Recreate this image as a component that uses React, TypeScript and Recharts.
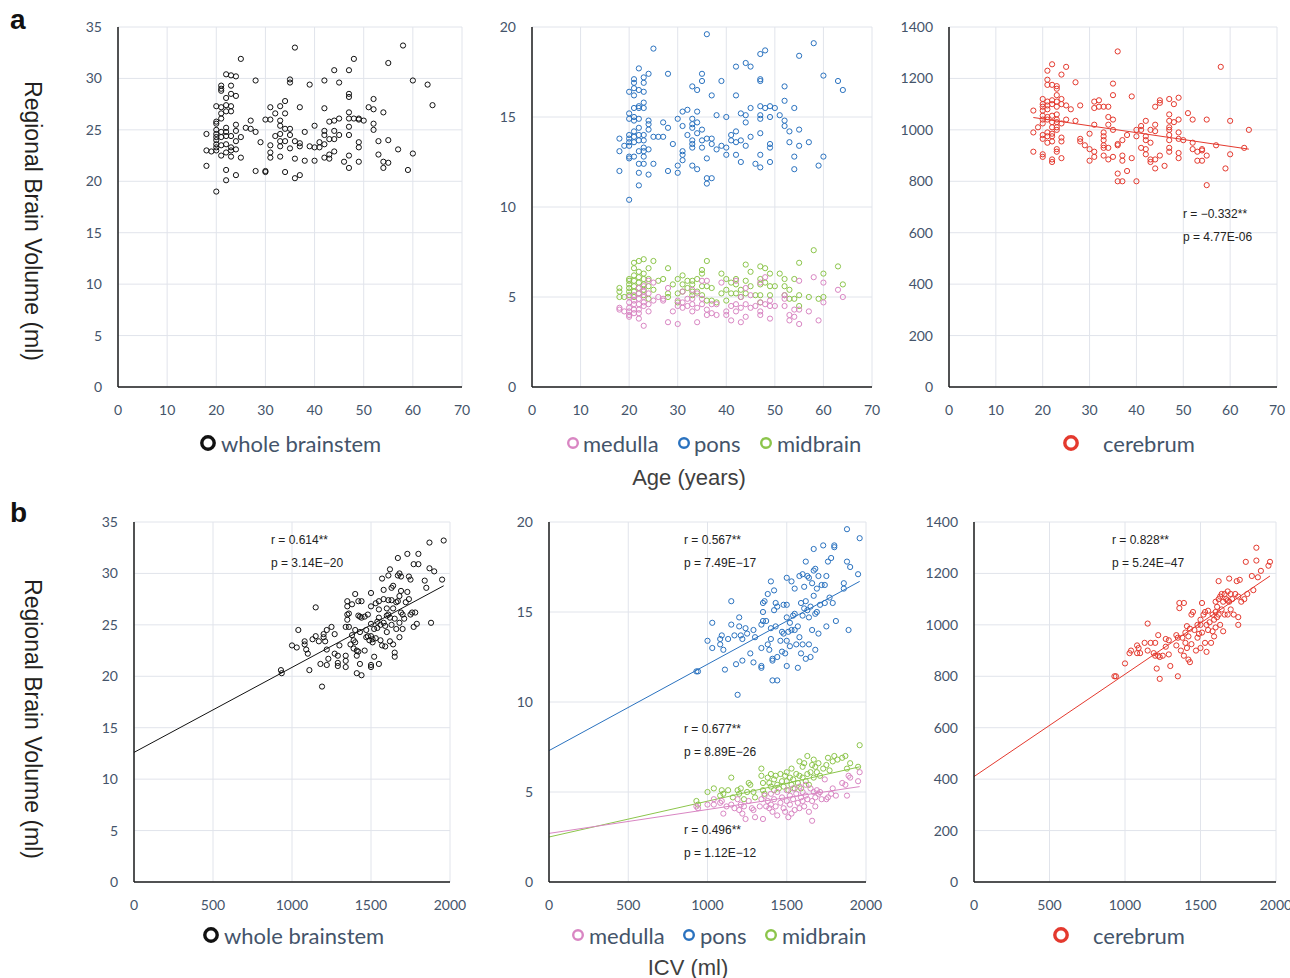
import React from 'react';
import { ScatterChart, Scatter, XAxis, YAxis, CartesianGrid, ReferenceLine } from 'recharts';

type Pt = [number, number];

const ageTicks = [0, 10, 20, 30, 40, 50, 60, 70];
const icvTicks = [0, 500, 1000, 1500, 2000];
const brainstemTicks = [0, 5, 10, 15, 20, 25, 30, 35];
const subregionTicks = [0, 5, 10, 15, 20];
const cerebrumTicks = [0, 200, 400, 600, 800, 1000, 1200, 1400];

// age (years) vs volume (ml)
const brainstemByAge: Pt[] = [
  [18, 24.6], [18, 23], [18, 21.5], [19, 22.9], [20, 27.3], [20, 25.8], [20, 25.6], [20, 25], [20, 24.6], [20, 24.3],
  [20, 24], [20, 23.6], [20, 23.3], [20, 23], [20, 19], [21, 29.3], [21, 29], [21, 28.8], [21, 27.2], [21, 26.6],
  [21, 26.1], [21, 24.8], [21, 24.3], [21, 23.5], [21, 22.5], [22, 30.4], [22, 28.1], [22, 27.4], [22, 26.8], [22, 25.2],
  [22, 24.8], [22, 24.4], [22, 23.6], [22, 22.8], [22, 21.1], [22, 20.1], [23, 30.3], [23, 29.3], [23, 28.5], [23, 27.3],
  [23, 26.8], [23, 24.4], [23, 23.3], [23, 23], [23, 22.4], [24, 30.2], [24, 28.3], [24, 25.5], [24, 24.9], [24, 23.9],
  [24, 23.1], [24, 20.6], [25, 31.9], [25, 24.3], [25, 22.3], [26, 25.2], [27, 25.9], [27, 25.1], [28, 29.8], [28, 24.8],
  [28, 21], [29, 23.8], [30, 26], [30, 21], [30, 20.9], [31, 27.2], [31, 26], [31, 23.5], [31, 22.8], [31, 22.3],
  [32, 26.6], [32, 24.4], [33, 27.3], [33, 25.9], [33, 25.4], [33, 24.6], [33, 23.9], [33, 23.4], [33, 22.4], [34, 27.8],
  [34, 26.6], [34, 25.1], [34, 23.9], [34, 20.9], [35, 29.9], [35, 29.6], [35, 25.1], [35, 24.5], [35, 23.2], [36, 33],
  [36, 23.9], [36, 22.2], [36, 20.3], [37, 27.2], [37, 23.7], [37, 23.4], [37, 20.6], [38, 24.8], [38, 22], [39, 29.4],
  [39, 23.4], [40, 25.4], [40, 23.3], [40, 22], [41, 23.8], [41, 23.3], [42, 29.8], [42, 27.1], [42, 24.9], [42, 24.5],
  [42, 23.6], [42, 22.3], [43, 25.8], [43, 24.1], [43, 22.6], [43, 22.2], [44, 30.8], [44, 25.9], [44, 24.9], [44, 24.1],
  [44, 22.9], [45, 29.6], [45, 26.1], [45, 24.5], [46, 21.9], [47, 30.8], [47, 28.5], [47, 28.2], [47, 26.7], [47, 26.1],
  [47, 25.3], [47, 24.5], [47, 22.5], [47, 21.3], [48, 31.9], [48, 26.1], [49, 26.1], [49, 26], [49, 23.8], [49, 23.3],
  [49, 21.9], [50, 25.9], [51, 27.2], [52, 28], [52, 27], [52, 25.6], [52, 25], [53, 23.9], [53, 22.6], [54, 26.7],
  [54, 21.9], [54, 21.3], [55, 31.5], [55, 24], [55, 21.8], [57, 23.1], [58, 33.2], [59, 21.1], [60, 29.8], [60, 22.7],
  [63, 29.4], [64, 27.4],
];

const ponsByAge: Pt[] = [
  [18, 13.8], [18, 13.1], [18, 12], [19, 13.4], [20, 16.4], [20, 15.2], [20, 14.9], [20, 14], [20, 13.8], [20, 13.6],
  [20, 13.4], [20, 12.8], [20, 12.7], [20, 10.4], [21, 17.1], [21, 16.9], [21, 16.6], [21, 16.2], [21, 15.5], [21, 15],
  [21, 14.8], [21, 14.2], [21, 13.9], [21, 13.6], [21, 12.8], [22, 17.7], [22, 16.5], [22, 15.6], [22, 15.5], [22, 14.9],
  [22, 14.4], [22, 14], [22, 13.7], [22, 13.1], [22, 12.4], [22, 11.9], [22, 11.2], [23, 17.2], [23, 16.9], [23, 16.4],
  [23, 15.8], [23, 15.5], [23, 14], [23, 13.7], [23, 13.3], [23, 13.1], [23, 12.8], [23, 12.4], [24, 17.4], [24, 14.8],
  [24, 14.6], [24, 14.3], [24, 13.2], [24, 11.8], [25, 18.8], [25, 13.9], [25, 12.4], [26, 13.9], [27, 14.7], [27, 13.9],
  [28, 17.4], [28, 14.4], [28, 12], [29, 13.5], [30, 14.9], [30, 12.3], [30, 11.9], [31, 15.3], [31, 14.5], [31, 13.1],
  [31, 12.9], [31, 12.6], [32, 15.4], [32, 14], [33, 16.7], [33, 14.9], [33, 14.6], [33, 14.4], [33, 13.7], [33, 13.5],
  [33, 13.3], [33, 12.3], [34, 16.5], [34, 15.3], [34, 14.7], [34, 14.1], [34, 12.1], [35, 17.4], [35, 17], [35, 14.3],
  [35, 13.7], [35, 13.3], [36, 19.6], [36, 13.8], [36, 12.7], [36, 11.6], [36, 11.3], [37, 16.2], [37, 13.8], [37, 13.5],
  [37, 11.6], [38, 15.1], [38, 13.2], [39, 17], [39, 13.4], [40, 15], [40, 13.3], [40, 12.9], [41, 14], [41, 13.7],
  [42, 17.8], [42, 16.2], [42, 14.2], [42, 13.6], [42, 12.9], [43, 15.2], [43, 13.7], [43, 12.5], [44, 18], [44, 15.1],
  [44, 14.7], [44, 13.4], [45, 17.8], [45, 15.5], [45, 13.9], [46, 12.4], [47, 18.5], [47, 17.1], [47, 17], [47, 15.6],
  [47, 15.1], [47, 14.9], [47, 14.1], [47, 12.9], [47, 12.2], [48, 18.7], [48, 15.5], [49, 15.6], [49, 15], [49, 13.5],
  [49, 13.3], [49, 12.5], [50, 15.5], [51, 15.1], [52, 16.7], [52, 15.9], [52, 14.8], [52, 14.5], [53, 14.2], [53, 13.6],
  [54, 15.5], [54, 12.8], [54, 12.1], [55, 18.4], [55, 14.3], [55, 13.4], [57, 13.6], [58, 19.1], [59, 12.3], [60, 17.3],
  [60, 12.8], [63, 17], [64, 16.5],
];

const medullaByAge: Pt[] = [
  [18, 4.4], [18, 4.3], [19, 4.2], [20, 5], [20, 4.7], [20, 4.4], [20, 4.2], [20, 4], [20, 3.9], [21, 5.1],
  [21, 4.8], [21, 4.6], [21, 4.3], [21, 4.1], [22, 5.5], [22, 5.2], [22, 4.9], [22, 4.6], [22, 4.3], [22, 4.1],
  [22, 3.8], [23, 5.6], [23, 5.3], [23, 5], [23, 4.7], [23, 4.5], [23, 3.4], [24, 5.9], [24, 5.2], [24, 4.6],
  [24, 4.2], [25, 5.8], [25, 4.8], [26, 5], [27, 4.9], [27, 4.8], [28, 5.5], [28, 3.6], [29, 4.2], [30, 4.8],
  [30, 4.5], [30, 3.5], [31, 5.3], [31, 4.7], [31, 4.4], [32, 4.9], [32, 4.5], [33, 5.4], [33, 4.9], [33, 4.6],
  [33, 4.2], [34, 5.2], [34, 4.4], [34, 3.6], [35, 5.9], [35, 4.9], [35, 4.6], [36, 5.9], [36, 4.3], [36, 4],
  [37, 4.6], [37, 4.1], [38, 4.6], [38, 4], [39, 5.8], [40, 4.2], [40, 4], [41, 4.5], [41, 3.7], [42, 5.9],
  [42, 4.6], [42, 4.2], [43, 5], [43, 4.4], [43, 3.6], [44, 5.5], [44, 4.6], [44, 3.9], [45, 5.1], [45, 4.4],
  [46, 4.5], [47, 5.8], [47, 4.7], [47, 4.2], [47, 4], [48, 6.1], [48, 4.6], [49, 4.8], [49, 4.5], [49, 3.8],
  [50, 4.5], [52, 5.1], [52, 4.9], [52, 4.5], [53, 4], [53, 3.7], [54, 4.3], [54, 3.9], [55, 5.9], [55, 4.3],
  [55, 3.5], [57, 4.2], [58, 6.1], [59, 3.7], [60, 5.8], [60, 4.7], [63, 5.4], [64, 5],
];

const midbrainByAge: Pt[] = [
  [18, 5.5], [18, 5.3], [18, 5], [19, 5], [20, 6], [20, 5.9], [20, 5.7], [20, 5.5], [20, 5.3], [20, 5.1],
  [21, 6.9], [21, 6.6], [21, 6.2], [21, 5.9], [21, 5.6], [21, 5.3], [21, 5], [22, 7], [22, 6.4], [22, 6.1],
  [22, 5.8], [22, 5.5], [22, 5.2], [23, 7.1], [23, 6.3], [23, 6], [23, 5.7], [23, 5.4], [23, 5.1], [24, 6.6],
  [24, 6], [24, 5.6], [24, 4.9], [25, 7], [25, 5.4], [26, 5.9], [27, 6], [28, 6.6], [28, 5.2], [28, 5],
  [29, 5.7], [30, 6], [30, 5.2], [30, 4.7], [31, 6.2], [31, 5.7], [31, 5.3], [32, 5.9], [32, 5.5], [33, 5.9],
  [33, 5.7], [33, 5.3], [33, 5.1], [34, 6], [34, 5.3], [35, 6.5], [35, 6.3], [35, 5.6], [35, 5.1], [36, 7],
  [36, 5.6], [36, 4.8], [37, 5.5], [37, 4.8], [38, 4.7], [39, 6.3], [39, 5.2], [40, 6], [40, 5.4], [40, 4.8],
  [41, 5.8], [41, 5.2], [42, 6], [42, 5.7], [42, 5.2], [43, 5.4], [43, 5], [44, 6.8], [44, 5.9], [44, 5.2],
  [45, 6.4], [45, 5.6], [46, 5.1], [47, 6.7], [47, 6], [47, 5.7], [47, 5.1], [47, 4.7], [48, 6.6], [48, 5.8],
  [49, 6.3], [49, 5.6], [49, 5.1], [50, 5.6], [51, 6.3], [52, 6], [52, 5.6], [52, 5.1], [53, 5.4], [53, 4.9],
  [54, 6], [54, 4.9], [55, 6.9], [55, 5.1], [55, 4.5], [57, 5], [58, 7.6], [59, 4.9], [60, 6.3], [60, 5],
  [63, 6.7], [64, 5.7],
];

const cerebrumByAge: Pt[] = [
  [18, 1075], [18, 990], [18, 915], [19, 1010], [20, 1120], [20, 1100], [20, 1090], [20, 1075], [20, 1055], [20, 1040],
  [20, 1025], [20, 980], [20, 965], [20, 905], [20, 895], [21, 1230], [21, 1195], [21, 1175], [21, 1110], [21, 1095],
  [21, 1080], [21, 1050], [21, 1040], [21, 990], [21, 975], [21, 950], [22, 1255], [22, 1175], [22, 1115], [22, 1100],
  [22, 1055], [22, 1030], [22, 1010], [22, 985], [22, 975], [22, 955], [22, 885], [22, 875], [23, 1170], [23, 1160],
  [23, 1135], [23, 1110], [23, 1090], [23, 1060], [23, 1040], [23, 1030], [23, 1010], [23, 1000], [23, 925], [23, 915],
  [24, 1215], [24, 1120], [24, 1100], [24, 1025], [24, 970], [24, 955], [24, 890], [25, 1245], [25, 1095], [25, 1040],
  [26, 1080], [27, 1185], [27, 1035], [28, 1095], [28, 965], [28, 955], [29, 940], [30, 985], [30, 925], [30, 880],
  [31, 1110], [31, 1085], [31, 1020], [31, 915], [31, 895], [32, 1115], [32, 1090], [33, 1090], [33, 990], [33, 975],
  [33, 960], [33, 940], [33, 930], [33, 900], [34, 1090], [34, 1050], [34, 1020], [34, 930], [34, 885], [35, 1180],
  [35, 1135], [35, 1040], [35, 1000], [35, 895], [36, 1305], [36, 945], [36, 940], [36, 830], [36, 800], [37, 960],
  [37, 900], [37, 880], [37, 800], [38, 980], [38, 840], [39, 1130], [39, 890], [40, 1000], [40, 975], [40, 800],
  [41, 1015], [41, 1000], [41, 930], [42, 1035], [42, 975], [42, 960], [42, 925], [42, 905], [43, 1000], [43, 950],
  [43, 885], [43, 875], [44, 1090], [44, 1020], [44, 995], [44, 885], [44, 850], [45, 1115], [45, 1105], [45, 900],
  [46, 860], [47, 1120], [47, 1060], [47, 1035], [47, 1010], [47, 1000], [47, 980], [47, 960], [47, 930], [47, 915],
  [48, 1100], [48, 1030], [49, 1125], [49, 1040], [49, 990], [49, 965], [49, 910], [49, 890], [50, 960], [51, 1065],
  [52, 1040], [52, 950], [52, 925], [53, 915], [53, 880], [54, 925], [54, 920], [54, 880], [55, 1040], [55, 900],
  [55, 785], [57, 940], [58, 1245], [59, 850], [60, 1035], [60, 905], [63, 930], [64, 1000],
];

// ICV (ml) vs volume (ml)
const brainstemByIcv: Pt[] = [
  [930, 20.6], [935, 20.3], [1000, 23], [1030, 22.8], [1040, 24.5], [1080, 23.4], [1080, 23.1], [1090, 22.6], [1100, 22.2], [1110, 20.6],
  [1130, 23.6], [1150, 26.7], [1150, 23.9], [1170, 23.4], [1180, 21.2], [1190, 19], [1200, 24.1], [1200, 23.8], [1210, 23.4], [1220, 24.5],
  [1220, 22.6], [1220, 21.1], [1230, 21.7], [1250, 24.8], [1270, 24.1], [1270, 22.2], [1290, 22], [1290, 21.3], [1290, 21], [1300, 23],
  [1340, 24.8], [1340, 22], [1340, 21.5], [1340, 20.9], [1350, 27.3], [1350, 26.8], [1350, 26], [1350, 25.5], [1360, 26.1], [1360, 24.8],
  [1370, 23.1], [1380, 27], [1380, 24], [1390, 23.5], [1390, 22.7], [1400, 28], [1400, 24.5], [1400, 23.3], [1410, 22.5], [1410, 22],
  [1410, 20.3], [1420, 27.3], [1420, 25.9], [1420, 22.4], [1430, 25.8], [1430, 24.3], [1430, 21.2], [1440, 27.3], [1440, 25.7], [1440, 20.1],
  [1460, 25.8], [1460, 22.5], [1470, 24.5], [1470, 23.8], [1480, 26], [1480, 23.9], [1490, 23.5], [1500, 28.1], [1500, 26.8], [1500, 25.1],
  [1500, 23.9], [1500, 21.1], [1500, 20.9], [1510, 23.6], [1510, 23.3], [1520, 24.6], [1520, 21.9], [1530, 27.1], [1530, 23.7], [1540, 25.3],
  [1540, 24.7], [1550, 27.3], [1550, 26.5], [1550, 25.7], [1550, 21.2], [1560, 25], [1560, 23.5], [1570, 29.5], [1570, 23], [1580, 28.4],
  [1580, 27.5], [1580, 25.2], [1590, 24.9], [1590, 22.9], [1600, 26.6], [1600, 25.9], [1600, 24.3], [1610, 29.8], [1610, 27.4], [1610, 26],
  [1620, 30.4], [1620, 25.7], [1620, 23.4], [1630, 28.6], [1630, 27.4], [1630, 25], [1640, 28.8], [1640, 26.6], [1640, 23.1], [1650, 25.6],
  [1650, 22.3], [1650, 21.9], [1660, 27.2], [1660, 24.6], [1670, 31.5], [1670, 29.8], [1670, 27.3], [1680, 30], [1680, 27.8], [1680, 25.2],
  [1680, 23.8], [1690, 29.7], [1690, 28.3], [1690, 26.2], [1700, 26], [1700, 24.6], [1710, 25.6], [1720, 27.2], [1730, 31.9], [1730, 28.2],
  [1740, 29.7], [1740, 27.5], [1750, 29.4], [1750, 26], [1760, 26.2], [1770, 30.9], [1770, 24.8], [1780, 26.2], [1790, 25.1], [1800, 31.9],
  [1800, 30.9], [1840, 29.3], [1850, 28.6], [1870, 33], [1870, 30.5], [1880, 25.2], [1900, 30.2], [1950, 29.4], [1960, 33.2],
];

const ponsByIcv: Pt[] = [
  [930, 11.7], [940, 11.7], [1000, 13.4], [1030, 14.4], [1030, 13], [1080, 13.5], [1080, 13.2], [1090, 13.7], [1100, 12.9], [1110, 11.8],
  [1130, 13.5], [1150, 15.6], [1150, 14.3], [1170, 13.7], [1180, 12.1], [1190, 10.4], [1200, 14.7], [1200, 14.2], [1210, 13.7], [1220, 13.5],
  [1220, 12.3], [1240, 14.1], [1250, 13.8], [1270, 12.7], [1290, 12.2], [1290, 14], [1300, 13.6], [1340, 14.3], [1340, 13], [1340, 12],
  [1340, 11.9], [1350, 15.5], [1350, 15], [1350, 14.5], [1360, 15.6], [1370, 14.5], [1380, 16], [1380, 13.2], [1390, 12.9], [1400, 16.7],
  [1400, 14.1], [1400, 13.5], [1410, 12.4], [1410, 12.3], [1410, 11.2], [1420, 16.2], [1420, 15.1], [1430, 15.5], [1430, 14.2], [1440, 15.3],
  [1440, 12.5], [1440, 11.2], [1460, 13.4], [1470, 13.9], [1470, 12.8], [1480, 15.4], [1480, 13.8], [1490, 12.7], [1500, 16.9], [1500, 15.4],
  [1500, 14.7], [1500, 13.4], [1500, 12], [1510, 13.9], [1520, 14.4], [1520, 13.1], [1530, 16.7], [1530, 14], [1540, 14.8], [1550, 16.3],
  [1550, 14.9], [1550, 14], [1560, 13.2], [1570, 14.2], [1570, 11.9], [1580, 17], [1580, 13.6], [1590, 15.5], [1590, 12.7], [1600, 17.1],
  [1600, 14.8], [1600, 13.2], [1610, 16.4], [1610, 15.2], [1620, 17.8], [1620, 15.6], [1620, 12.4], [1630, 17], [1630, 15.1], [1640, 16.9],
  [1640, 14.7], [1640, 13.2], [1650, 15.3], [1650, 12.5], [1660, 16.6], [1660, 14], [1670, 18.5], [1670, 17.3], [1670, 15.9], [1680, 17.4],
  [1680, 14.9], [1680, 12.9], [1690, 16.3], [1690, 15], [1700, 17], [1700, 13.8], [1710, 15.4], [1720, 16.5], [1730, 18.7], [1740, 16.5],
  [1740, 15.5], [1750, 17], [1750, 14.2], [1760, 17.8], [1770, 15.8], [1780, 18], [1790, 15.5], [1800, 18.7], [1800, 18.6], [1810, 14.5],
  [1860, 16.6], [1860, 16.3], [1880, 17.8], [1880, 19.6], [1890, 14], [1900, 17.5], [1950, 17.1], [1960, 19.1],
];

const medullaByIcv: Pt[] = [
  [930, 4.2], [940, 4.1], [1000, 4.3], [1040, 4.6], [1040, 4.3], [1080, 4.4], [1090, 4.5], [1100, 3.8], [1120, 4.2], [1150, 4.3],
  [1170, 4.1], [1190, 4.6], [1200, 4], [1210, 4.3], [1220, 3.8], [1230, 4.2], [1240, 3.5], [1260, 4.5], [1280, 4.1], [1290, 4],
  [1300, 3.6], [1330, 4.2], [1340, 4.6], [1350, 3.5], [1360, 4.8], [1370, 4.2], [1380, 4.5], [1390, 4.1], [1400, 4.9], [1400, 4.3],
  [1410, 3.9], [1420, 4.6], [1430, 4.2], [1440, 5], [1440, 3.7], [1460, 4.4], [1470, 4.7], [1480, 4.1], [1490, 3.9], [1500, 5.1],
  [1500, 4.5], [1510, 3.6], [1520, 4.8], [1520, 4.3], [1530, 3.8], [1540, 5.2], [1540, 4.6], [1550, 4], [1560, 4.9], [1570, 4.4],
  [1580, 5.3], [1580, 4.1], [1590, 4.7], [1600, 5], [1600, 4.5], [1610, 4.2], [1620, 5.4], [1620, 4.8], [1630, 4.6], [1640, 3.9],
  [1650, 5.2], [1660, 4.5], [1660, 3.4], [1670, 5], [1680, 4.7], [1680, 4.2], [1690, 5.1], [1700, 4.9], [1710, 5], [1720, 4.6],
  [1740, 5.7], [1750, 4.6], [1760, 4.7], [1780, 4.9], [1790, 5.2], [1810, 4.8], [1850, 5.5], [1870, 5.4], [1880, 4.8], [1890, 5.9],
  [1900, 5.8], [1950, 5.6], [1960, 6.1],
];

const midbrainByIcv: Pt[] = [
  [930, 4.5], [940, 4.3], [1000, 5], [1040, 5.2], [1080, 4.8], [1090, 5.1], [1100, 4.9], [1130, 5.1], [1150, 5.8], [1160, 4.7],
  [1190, 5.1], [1200, 4.9], [1210, 5.2], [1230, 4.6], [1250, 5], [1260, 5.5], [1270, 5.4], [1290, 5], [1300, 4.7], [1340, 6.3],
  [1340, 5.9], [1350, 5.5], [1350, 5.1], [1360, 4.9], [1380, 5.8], [1390, 5.5], [1400, 6], [1400, 5.3], [1420, 5.7], [1420, 5.1],
  [1430, 5.9], [1440, 5.4], [1450, 5.2], [1460, 6], [1470, 5.6], [1480, 5.3], [1490, 5.9], [1500, 6.1], [1500, 5.6], [1510, 5.1],
  [1520, 5.8], [1530, 6.3], [1530, 5.4], [1540, 5.7], [1550, 5.2], [1560, 6], [1570, 5.5], [1580, 6.7], [1580, 5.9], [1590, 5.2],
  [1600, 6.4], [1600, 5.8], [1610, 6.6], [1620, 5.6], [1630, 7], [1630, 6], [1640, 5.4], [1650, 6.1], [1660, 6.5], [1670, 6.8],
  [1670, 5.8], [1680, 6.4], [1690, 6.1], [1700, 6.6], [1710, 5.9], [1730, 6.3], [1750, 6.5], [1760, 6.9], [1770, 6.2], [1790, 6.7],
  [1800, 7], [1820, 6.8], [1850, 6.9], [1870, 7], [1880, 6.3], [1900, 6.6], [1950, 6.4], [1960, 7.6],
];

const cerebrumByIcv: Pt[] = [
  [930, 800], [940, 800], [1000, 850], [1030, 890], [1040, 900], [1080, 920], [1080, 890], [1090, 910], [1100, 890], [1130, 930],
  [1150, 1005], [1150, 900], [1170, 930], [1190, 890], [1200, 930], [1200, 880], [1210, 830], [1220, 960], [1220, 880], [1230, 875],
  [1230, 790], [1250, 880], [1270, 945], [1270, 915], [1290, 940], [1290, 885], [1300, 840], [1340, 960], [1340, 920], [1350, 950],
  [1350, 800], [1360, 1085], [1360, 1065], [1370, 900], [1380, 950], [1390, 880], [1390, 1085], [1400, 970], [1400, 930], [1410, 995],
  [1410, 910], [1420, 955], [1420, 865], [1430, 985], [1430, 855], [1440, 1040], [1440, 925], [1450, 1050], [1460, 980], [1470, 900],
  [1480, 1000], [1480, 950], [1490, 965], [1500, 1020], [1500, 1000], [1500, 910], [1510, 1085], [1510, 970], [1520, 1040], [1530, 1050],
  [1530, 930], [1540, 1000], [1540, 895], [1550, 1055], [1550, 980], [1560, 1010], [1570, 930], [1580, 1040], [1580, 975], [1590, 1020],
  [1590, 955], [1600, 1090], [1600, 1050], [1600, 990], [1610, 1070], [1610, 1030], [1620, 1170], [1620, 1100], [1620, 1040], [1630, 1110],
  [1630, 1000], [1640, 1120], [1640, 1060], [1650, 1090], [1650, 975], [1660, 1120], [1660, 1040], [1670, 1100], [1680, 1130], [1680, 1095],
  [1680, 1040], [1690, 1180], [1690, 1090], [1700, 1120], [1700, 1060], [1710, 1100], [1720, 1040], [1730, 1120], [1740, 1170], [1750, 1110],
  [1750, 1030], [1750, 1000], [1760, 1175], [1770, 1090], [1790, 1100], [1800, 1245], [1810, 1120], [1840, 1190], [1850, 1135], [1870, 1300],
  [1870, 1250], [1880, 1185], [1900, 1210], [1950, 1230], [1960, 1245],
];

// regression line end points
const cerebrumAgeTrend: Pt[] = [[18, 1048], [64, 925]];
const brainstemIcvTrend: Pt[] = [[0, 12.6], [1960, 28.8]];
const ponsIcvTrend: Pt[] = [[0, 7.3], [1960, 16.7]];
const medullaIcvTrend: Pt[] = [[0, 2.7], [1960, 5.3]];
const midbrainIcvTrend: Pt[] = [[0, 2.5], [1960, 6.4]];
const cerebrumIcvTrend: Pt[] = [[0, 410], [1960, 1190]];

const BLACK = '#111111';
const PINK = '#d986c3';
const BLUE = '#2a72bf';
const GREEN = '#8cc54b';
const RED = '#e4392e';

const tickStyle = { fill: '#44546a', fontSize: 14, fontFamily: 'Lato, "Noto Sans", sans-serif' };
const axisLineStyle = { stroke: '#1c1c1c', strokeWidth: 1.5 };

type Series = { name: string; points: Pt[]; color: string; trend?: Pt[] };

type PanelProps = {
  left: number;
  top: number;
  width: number;
  height: number;
  xTicks: number[];
  yTicks: number[];
  series: Series[];
};

const ring = (color: string) => (p: any) => (
  <circle cx={p.cx} cy={p.cy} r={2.6} fill="none" stroke={color} strokeWidth={1} />
);

function Panel({ left, top, width, height, xTicks, yTicks, series }: PanelProps) {
  return (
    <div style={{ position: 'absolute', left: left - 70, top: top - 20 }}>
      <ScatterChart width={width + 100} height={height + 60} margin={{ top: 20, right: 30, bottom: 0, left: 0 }}>
        <CartesianGrid stroke="#e1e4eb" strokeWidth={1} />
        <XAxis
          type="number"
          dataKey="x"
          domain={[xTicks[0], xTicks[xTicks.length - 1]]}
          ticks={xTicks}
          interval={0}
          height={40}
          tickSize={0}
          tickMargin={18}
          tick={tickStyle}
          axisLine={axisLineStyle}
        />
        <YAxis
          type="number"
          dataKey="y"
          domain={[yTicks[0], yTicks[yTicks.length - 1]]}
          ticks={yTicks}
          interval={0}
          width={70}
          tickSize={0}
          tickMargin={16}
          tick={tickStyle}
          axisLine={axisLineStyle}
        />
        {series.map((s) => (
          <Scatter
            key={s.name}
            name={s.name}
            data={s.points.map(([x, y]) => ({ x, y }))}
            shape={ring(s.color)}
            isAnimationActive={false}
          />
        ))}
        {series
          .filter((s) => s.trend)
          .map((s) => (
            <ReferenceLine
              key={s.name + '-trend'}
              segment={[
                { x: s.trend![0][0], y: s.trend![0][1] },
                { x: s.trend![1][0], y: s.trend![1][1] },
              ]}
              stroke={s.color}
              strokeWidth={1}
            />
          ))}
      </ScatterChart>
    </div>
  );
}

type LegendItem = { cx: number; tx: number; y: number; color: string; label: string; big?: boolean };

const legendItems: LegendItem[] = [
  { cx: 208, tx: 221, y: 443, color: BLACK, label: 'whole brainstem', big: true },
  { cx: 573, tx: 583, y: 443, color: PINK, label: 'medulla' },
  { cx: 684, tx: 694, y: 443, color: BLUE, label: 'pons' },
  { cx: 766, tx: 777, y: 443, color: GREEN, label: 'midbrain' },
  { cx: 1071, tx: 1103, y: 443, color: RED, label: 'cerebrum', big: true },
  { cx: 211, tx: 224, y: 935, color: BLACK, label: 'whole brainstem', big: true },
  { cx: 578, tx: 589, y: 935, color: PINK, label: 'medulla' },
  { cx: 689, tx: 700, y: 935, color: BLUE, label: 'pons' },
  { cx: 771, tx: 782, y: 935, color: GREEN, label: 'midbrain' },
  { cx: 1061, tx: 1093, y: 935, color: RED, label: 'cerebrum', big: true },
];

type Note = { x: number; y: number; text: string };

const statNotes: Note[] = [
  { x: 1183, y: 214, text: 'r = −0.332**' },
  { x: 1183, y: 237, text: 'p = 4.77E-06' },
  { x: 271, y: 540, text: 'r = 0.614**' },
  { x: 271, y: 563, text: 'p = 3.14E−20' },
  { x: 684, y: 540, text: 'r = 0.567**' },
  { x: 684, y: 563, text: 'p = 7.49E−17' },
  { x: 684, y: 729, text: 'r = 0.677**' },
  { x: 684, y: 752, text: 'p = 8.89E−26' },
  { x: 684, y: 830, text: 'r = 0.496**' },
  { x: 684, y: 853, text: 'p = 1.12E−12' },
  { x: 1112, y: 540, text: 'r = 0.828**' },
  { x: 1112, y: 563, text: 'p = 5.24E−47' },
];

const ARIAL = '"Liberation Sans", Arial, sans-serif';

export default function App() {
  return (
    <div style={{ position: 'absolute', left: 0, top: 0, width: 1290, height: 978, background: '#fff', overflow: 'hidden' }}>
      <Panel left={118} top={27} width={344} height={360} xTicks={ageTicks} yTicks={brainstemTicks}
        series={[{ name: 'whole brainstem', points: brainstemByAge, color: BLACK }]} />
      <Panel left={532} top={27} width={340} height={360} xTicks={ageTicks} yTicks={subregionTicks}
        series={[
          { name: 'pons', points: ponsByAge, color: BLUE },
          { name: 'midbrain', points: midbrainByAge, color: GREEN },
          { name: 'medulla', points: medullaByAge, color: PINK },
        ]} />
      <Panel left={949} top={27} width={328} height={360} xTicks={ageTicks} yTicks={cerebrumTicks}
        series={[{ name: 'cerebrum', points: cerebrumByAge, color: RED, trend: cerebrumAgeTrend }]} />

      <Panel left={134} top={522} width={316} height={360} xTicks={icvTicks} yTicks={brainstemTicks}
        series={[{ name: 'whole brainstem', points: brainstemByIcv, color: BLACK, trend: brainstemIcvTrend }]} />
      <Panel left={549} top={522} width={317} height={360} xTicks={icvTicks} yTicks={subregionTicks}
        series={[
          { name: 'pons', points: ponsByIcv, color: BLUE, trend: ponsIcvTrend },
          { name: 'midbrain', points: midbrainByIcv, color: GREEN, trend: midbrainIcvTrend },
          { name: 'medulla', points: medullaByIcv, color: PINK, trend: medullaIcvTrend },
        ]} />
      <Panel left={974} top={522} width={302} height={360} xTicks={icvTicks} yTicks={cerebrumTicks}
        series={[{ name: 'cerebrum', points: cerebrumByIcv, color: RED, trend: cerebrumIcvTrend }]} />

      <svg width={1290} height={978} style={{ position: 'absolute', left: 0, top: 0, pointerEvents: 'none' }}>
        <text x={10} y={29} fontFamily={ARIAL} fontWeight="bold" fontSize={28} fill="#111">a</text>
        <text x={10} y={522} fontFamily={ARIAL} fontWeight="bold" fontSize={28} fill="#111">b</text>

        <text transform="translate(33,221) rotate(90)" textAnchor="middle" dominantBaseline="central"
          fontFamily={ARIAL} fontSize={23} fill="#231f20">Regional Brain Volume (ml)</text>
        <text transform="translate(33,719) rotate(90)" textAnchor="middle" dominantBaseline="central"
          fontFamily={ARIAL} fontSize={23} fill="#231f20">Regional Brain Volume (ml)</text>

        <text x={689} y={477} textAnchor="middle" dominantBaseline="central" fontFamily={ARIAL} fontSize={22} fill="#404040">Age (years)</text>
        <text x={688} y={967} textAnchor="middle" dominantBaseline="central" fontFamily={ARIAL} fontSize={22} fill="#404040">ICV (ml)</text>

        {legendItems.map((it, i) => (
          <g key={i}>
            <circle cx={it.cx} cy={it.y} r={it.big ? 6.2 : 4.8} fill="none" stroke={it.color} strokeWidth={it.big ? 3.4 : 2.4} />
            <text x={it.tx} y={it.y} dominantBaseline="central" fontFamily='Lato, "Noto Sans", sans-serif' fontSize={22} fill="#44546a">
              {it.label}
            </text>
          </g>
        ))}

        {statNotes.map((n, i) => (
          <text key={i} x={n.x} y={n.y} dominantBaseline="central" fontFamily={ARIAL} fontSize={12} fill="#222">
            {n.text}
          </text>
        ))}
      </svg>
    </div>
  );
}
